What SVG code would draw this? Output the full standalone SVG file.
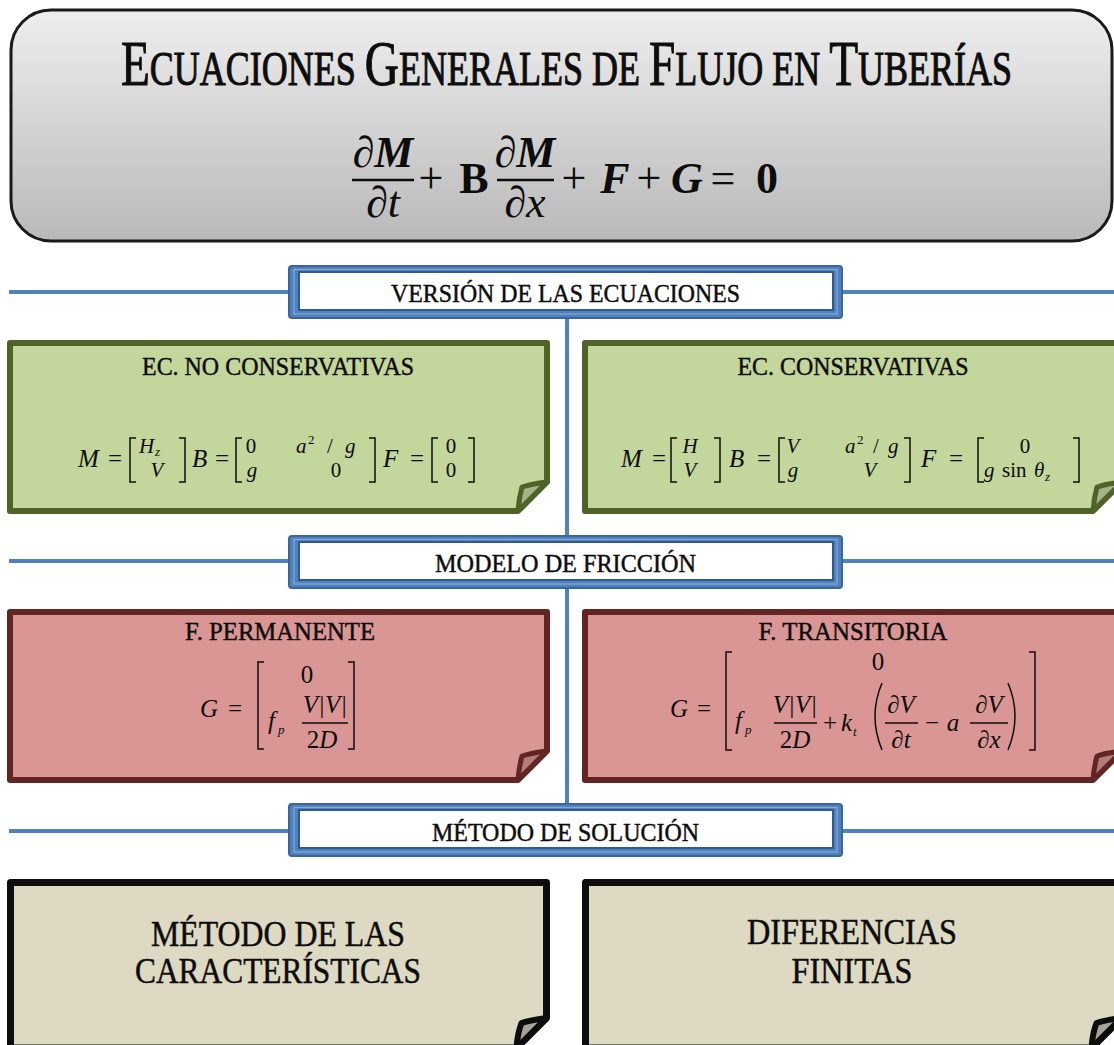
<svg xmlns="http://www.w3.org/2000/svg" width="1114" height="1045" viewBox="0 0 1114 1045">
<defs>
<linearGradient id="gTitle" x1="0" y1="0" x2="0" y2="1">
<stop offset="0" stop-color="#eeeeee"/>
<stop offset="1" stop-color="#b9b9b9"/>
</linearGradient>
<path id="card" d="M0,0 H537 V139 L508,168 H0 Z"/>
<path id="fold" d="M537,139 Q521,141 512,144 Q509,155 508,168 Z"/>
<path id="tcard" d="M0,0 H536 V135.5 L506,165.5 H0 Z"/>
<path id="tfold" d="M536,135.5 Q520,137.5 511,140.5 Q507,151 506,165.5 Z"/>
</defs>
<style>
.s{font-family:"Liberation Serif","Times New Roman",serif;fill:#0d0d0d}
.hv{stroke:#0d0d0d;stroke-width:0.45}
.i{font-style:italic}
.b{font-weight:bold}
.c{text-anchor:middle}
.bar{stroke:#0d0d0d;stroke-width:1.4}
.brk{fill:none;stroke:#0d0d0d;stroke-width:1.5}
.conn{stroke:#4f81bd;stroke-width:4;fill:none}
.hO{fill:#4f81bd;stroke:#3a669d;stroke-width:2}
.hL{fill:none;stroke:#87a9d6;stroke-width:1.2}
.hI{fill:#ffffff;stroke:#2f5a92;stroke-width:2}
.hT{font-size:25px}
.green{fill:#c3d69b;stroke:#4f6228;stroke-width:6;stroke-linejoin:round}
.greenF{fill:#a4b388;stroke:#4f6228;stroke-width:5;stroke-linejoin:round}
.red{fill:#d99694;stroke:#632523;stroke-width:6;stroke-linejoin:round}
.redF{fill:#b27c7a;stroke:#632523;stroke-width:5;stroke-linejoin:round}
.tan{fill:#ddd9c3;stroke:#0d0d0d;stroke-width:7;stroke-linejoin:round}
.tanF{fill:#a6a496;stroke:#0d0d0d;stroke-width:6;stroke-linejoin:round}
.bt{font-size:26px}
.mt{font-size:25px}
.me{font-size:21px}
.sub{font-size:13px}
</style>

<g id="connectors">
<line class="conn" x1="9" y1="292" x2="288" y2="292"/>
<line class="conn" x1="843" y1="292" x2="1114" y2="292"/>
<line class="conn" x1="9" y1="561" x2="288" y2="561"/>
<line class="conn" x1="843" y1="561" x2="1114" y2="561"/>
<line class="conn" x1="9" y1="831" x2="288" y2="831"/>
<line class="conn" x1="843" y1="831" x2="1114" y2="831"/>
<line class="conn" x1="567" y1="319" x2="567" y2="535"/>
<line class="conn" x1="567" y1="589" x2="567" y2="803"/>
</g>

<g id="title">
<rect x="11" y="10" width="1101" height="231" rx="40" fill="url(#gTitle)" stroke="#1a1a1a" stroke-width="3"/>
<text class="s" transform="translate(121,85) scale(0.75,1)" x="0" y="0" font-size="63" stroke="#0d0d0d" stroke-width="1" textLength="1188" lengthAdjust="spacingAndGlyphs">E<tspan font-size="48">CUACIONES </tspan>G<tspan font-size="48">ENERALES DE </tspan>F<tspan font-size="48">LUJO EN </tspan>T<tspan font-size="48">UBERÍAS</tspan></text>
<g class="s" font-size="44">
<text class="c" x="383" y="167"><tspan class="i">∂</tspan><tspan class="i b">M</tspan></text>
<line x1="352" y1="180" x2="414" y2="180" stroke="#0d0d0d" stroke-width="2.4"/>
<text class="c i" x="383" y="217">∂t</text>
<text class="c" x="431" y="193">+</text>
<text class="c b" x="474" y="193">B</text>
<text class="c" x="525" y="167"><tspan class="i">∂</tspan><tspan class="i b">M</tspan></text>
<line x1="497" y1="180" x2="554" y2="180" stroke="#0d0d0d" stroke-width="2.4"/>
<text class="c i" x="525" y="217">∂x</text>
<text class="c" x="574" y="193">+</text>
<text class="c i b" x="615" y="193">F</text>
<text class="c" x="649" y="193">+</text>
<text class="c i b" x="687" y="193">G</text>
<text class="c" x="723" y="193">=</text>
<text class="c b" x="767" y="193">0</text>
</g>
</g>

<g id="hdr-version">
<rect class="hO" x="289" y="266" width="553" height="52" rx="3"/>
<rect class="hL" x="294" y="269.5" width="543" height="44.5"/>
<rect class="hI" x="299" y="272" width="534" height="38"/>
<text class="s hv hT c" x="565.5" y="302" textLength="349" lengthAdjust="spacingAndGlyphs">VERSIÓN DE LAS ECUACIONES</text>
</g>

<g id="box-noconservativas">
<use href="#card" class="green" transform="translate(10,343)"/>
<use href="#fold" class="greenF" transform="translate(10,343)"/>
<text class="s hv bt c" x="278" y="375" textLength="272" lengthAdjust="spacingAndGlyphs">EC. NO CONSERVATIVAS</text>
<g class="s">
<text class="i mt" x="78" y="467">M</text>
<text class="c mt" x="115" y="467">=</text>
<path class="brk" d="M136,438H130V482H136"/>
<text class="i me" x="139" y="453">H</text><text class="i sub" x="155" y="456">z</text>
<text class="i c me" x="157" y="477">V</text>
<path class="brk" d="M179,438H185V482H179"/>
<text class="i mt" x="192" y="467">B</text>
<text class="c mt" x="222" y="467">=</text>
<path class="brk" d="M242,438H236V482H242"/>
<text class="c me" x="251" y="453">0</text>
<text class="i me" x="296" y="453">a</text><text class="sub" x="308" y="444">2</text><text class="c me" x="330" y="453">/</text><text class="i me" x="345" y="453">g</text>
<text class="i c me" x="252" y="477">g</text>
<text class="c me" x="336" y="477">0</text>
<path class="brk" d="M369,438H375V482H369"/>
<text class="i mt" x="383" y="467">F</text>
<text class="c mt" x="417" y="467">=</text>
<path class="brk" d="M438,438H432V482H438"/>
<text class="c me" x="451" y="453">0</text>
<text class="c me" x="451" y="477">0</text>
<path class="brk" d="M468,438H474V482H468"/>
</g>
</g>

<g id="box-conservativas">
<use href="#card" class="green" transform="translate(585,343)"/>
<use href="#fold" class="greenF" transform="translate(585,343)"/>
<text class="s hv bt c" x="853" y="375" textLength="231" lengthAdjust="spacingAndGlyphs">EC. CONSERVATIVAS</text>
<g class="s">
<text class="i mt" x="621" y="467">M</text>
<text class="c mt" x="659" y="467">=</text>
<path class="brk" d="M677,438H671V482H677"/>
<text class="i c me" x="690" y="453">H</text>
<text class="i c me" x="690" y="477">V</text>
<path class="brk" d="M714,438H720V482H714"/>
<text class="i mt" x="729" y="467">B</text>
<text class="c mt" x="764" y="467">=</text>
<path class="brk" d="M785,438H779V482H785"/>
<text class="i c me" x="793" y="453">V</text>
<text class="i c me" x="793" y="477">g</text>
<text class="i me" x="845" y="453">a</text><text class="sub" x="857" y="444">2</text><text class="c me" x="876" y="453">/</text><text class="i me" x="888" y="453">g</text>
<text class="i c me" x="870" y="477">V</text>
<path class="brk" d="M904,438H910V482H904"/>
<text class="i mt" x="921" y="467">F</text>
<text class="c mt" x="956" y="467">=</text>
<path class="brk" d="M984,438H978V482H984"/>
<text class="c me" x="1025" y="453">0</text>
<text class="i me" x="984" y="477">g</text><text class="me" x="1002" y="477">sin</text><text class="i me" x="1034" y="477">θ</text><text class="i sub" x="1045" y="481">z</text>
<path class="brk" d="M1073,438H1079V482H1073"/>
</g>
</g>

<g id="hdr-friccion">
<rect class="hO" x="289" y="536" width="553" height="52" rx="3"/>
<rect class="hL" x="294" y="539.5" width="543" height="44.5"/>
<rect class="hI" x="299" y="542" width="534" height="38"/>
<text class="s hv hT c" x="565.5" y="572" textLength="261" lengthAdjust="spacingAndGlyphs">MODELO DE FRICCIÓN</text>
</g>

<g id="box-permanente">
<use href="#card" class="red" transform="translate(10,612)"/>
<use href="#fold" class="redF" transform="translate(10,612)"/>
<text class="s hv bt c" x="280" y="640" textLength="190" lengthAdjust="spacingAndGlyphs">F. PERMANENTE</text>
<g class="s mt">
<text class="i" x="200" y="717">G</text>
<text class="c" x="235" y="717">=</text>
<path class="brk" d="M264,662H258V749H264"/>
<text class="c" x="307" y="683">0</text>
<text class="i" x="268" y="729">f</text><text class="i sub" x="278" y="734">p</text>
<text class="i c" x="325" y="713">V|V|</text>
<line class="bar" x1="302" y1="723" x2="348" y2="723"/>
<text class="c" x="322" y="748">2<tspan class="i">D</tspan></text>
<path class="brk" d="M348,662H354V749H348"/>
</g>
</g>

<g id="box-transitoria">
<use href="#card" class="red" transform="translate(585,612)"/>
<use href="#fold" class="redF" transform="translate(585,612)"/>
<text class="s hv bt c" x="853" y="640" textLength="189" lengthAdjust="spacingAndGlyphs">F. TRANSITORIA</text>
<g class="s mt">
<text class="i" x="670" y="717">G</text>
<text class="c" x="704" y="717">=</text>
<path class="brk" d="M732,652H726V750H732"/>
<text class="c" x="878" y="670">0</text>
<text class="i" x="735" y="729">f</text><text class="i sub" x="745" y="734">p</text>
<text class="i c" x="795" y="713">V|V|</text>
<line class="bar" x1="774" y1="723" x2="817" y2="723"/>
<text class="c" x="795" y="748">2<tspan class="i">D</tspan></text>
<text class="c" x="830" y="731">+</text>
<text class="i" x="841" y="731">k</text><text class="i sub" x="853" y="736">t</text>
<path class="brk" d="M882,683Q868,716 882,750"/>
<text class="i c" x="901" y="713">∂V</text>
<line class="bar" x1="885" y1="723" x2="918" y2="723"/>
<text class="i c" x="901" y="748">∂t</text>
<text class="c" x="932" y="731">−</text>
<text class="i c" x="953" y="731">a</text>
<text class="i c" x="989" y="713">∂V</text>
<line class="bar" x1="970" y1="723" x2="1008" y2="723"/>
<text class="i c" x="989" y="748">∂x</text>
<path class="brk" d="M1008,683Q1022,716 1008,750"/>
<path class="brk" d="M1029,652H1035V750H1029"/>
</g>
</g>

<g id="hdr-metodo">
<rect class="hO" x="289" y="804" width="553" height="52" rx="3"/>
<rect class="hL" x="294" y="807.5" width="543" height="44.5"/>
<rect class="hI" x="299" y="810" width="534" height="38"/>
<text class="s hv hT c" x="565.5" y="841" textLength="267" lengthAdjust="spacingAndGlyphs">MÉTODO DE SOLUCIÓN</text>
</g>

<g id="box-caracteristicas">
<use href="#tcard" class="tan" transform="translate(10.5,882.5)"/>
<use href="#tfold" class="tanF" transform="translate(10.5,882.5)"/>
<text class="s hv c" font-size="35" x="278" y="946" textLength="254" lengthAdjust="spacingAndGlyphs">MÉTODO DE LAS</text>
<text class="s hv c" font-size="35" x="278" y="983" textLength="286" lengthAdjust="spacingAndGlyphs">CARACTERÍSTICAS</text>
</g>

<g id="box-diferencias">
<use href="#tcard" class="tan" transform="translate(585.5,882.5)"/>
<use href="#tfold" class="tanF" transform="translate(585.5,882.5)"/>
<text class="s hv c" font-size="35" x="852" y="944" textLength="210" lengthAdjust="spacingAndGlyphs">DIFERENCIAS</text>
<text class="s hv c" font-size="35" x="852" y="983" textLength="121" lengthAdjust="spacingAndGlyphs">FINITAS</text>
</g>
</svg>
